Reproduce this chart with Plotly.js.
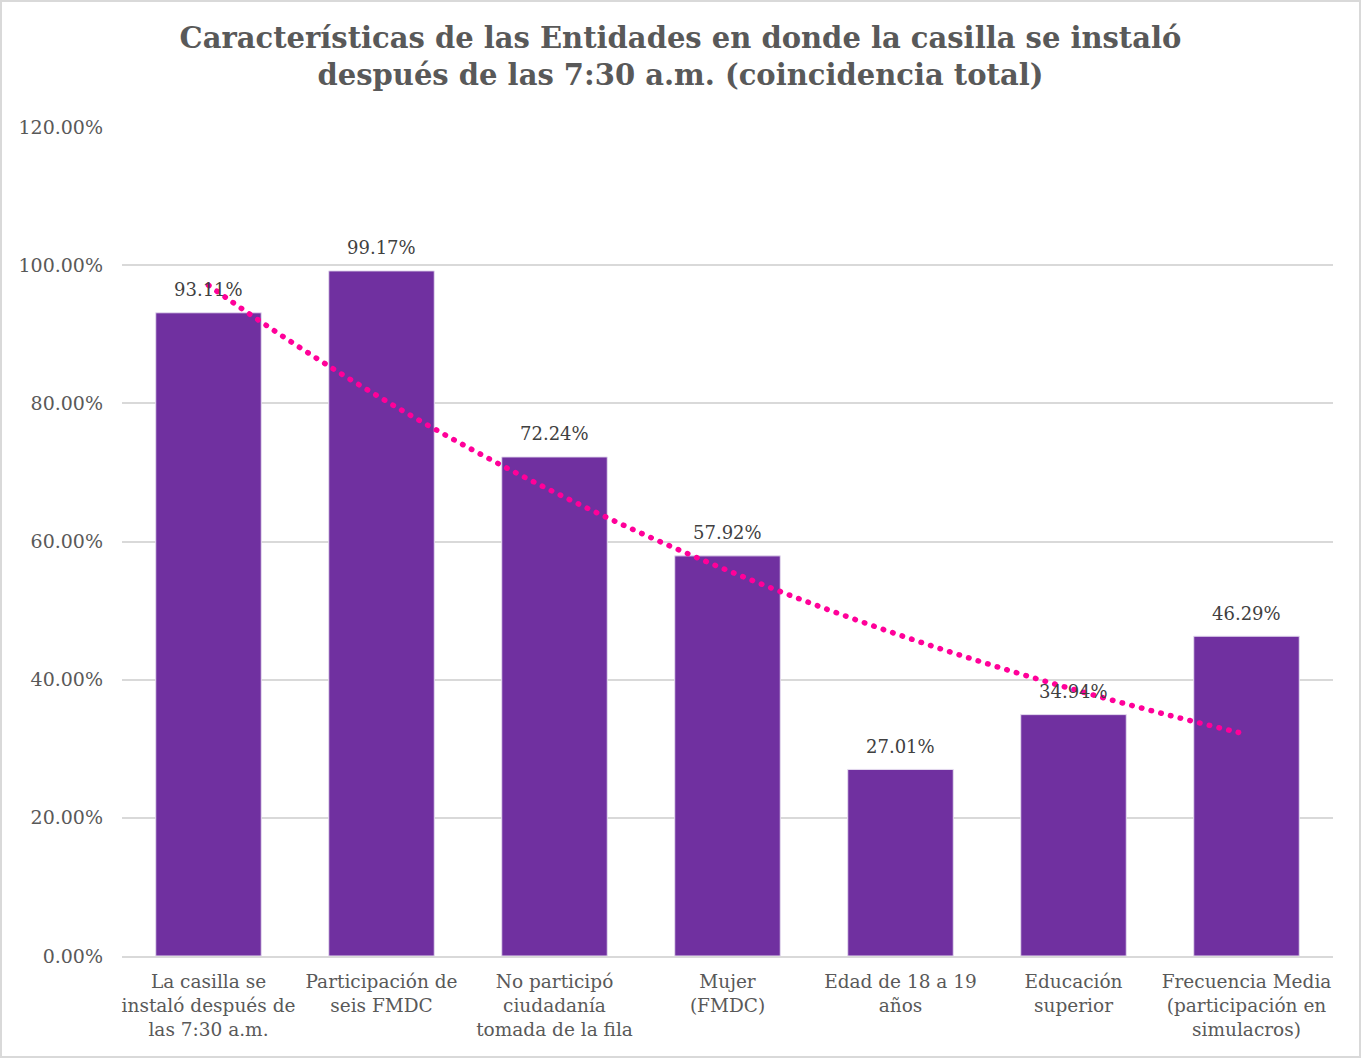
<!DOCTYPE html>
<html>
<head>
<meta charset="utf-8">
<script src="https://cdn.plot.ly/plotly-3.0.1.min.js"></script>
<style>
  html, body { margin: 0; padding: 0; background: #fff; }
  #wrap { position: relative; width: 1361px; height: 1058px; }
  #chart { width: 1361px; height: 1058px; }
  #frame { position: absolute; left: 0; top: 0; width: 1361px; height: 1058px; box-sizing: border-box;
           border: 2px solid #D9D9D9; pointer-events: none; }
  .scatterlayer .js-line { stroke-linecap: round !important; }
</style>
</head>
<body>
<div id="wrap"><div id="chart"></div><div id="frame"></div></div>
<script>
const categories = [
  "La casilla se<br>instaló después de<br>las 7:30 a.m.",
  "Participación de<br>seis FMDC",
  "No participó<br>ciudadanía<br>tomada de la fila",
  "Mujer<br>(FMDC)",
  "Edad de 18 a 19<br>años",
  "Educación<br>superior",
  "Frecuencia Media<br>(participación en<br>simulacros)"
];
const values = [0.9311, 0.9917, 0.7224, 0.5792, 0.2701, 0.3494, 0.4629];
const yTickVals = [0, 0.2, 0.4, 0.6, 0.8, 1.0, 1.2];

const xIdx = categories.map((_, i) => i);

// Exponential trendline (least squares on ln(y)), as a spreadsheet trendline does
const n = values.length;
const xs = values.map((_, i) => i + 1);
const ly = values.map(v => Math.log(v));
const mx = xs.reduce((a, b) => a + b, 0) / n;
const my = ly.reduce((a, b) => a + b, 0) / n;
let sxy = 0, sxx = 0;
for (let i = 0; i < n; i++) { sxy += (xs[i] - mx) * (ly[i] - my); sxx += (xs[i] - mx) ** 2; }
const slope = sxy / sxx;
const icpt = my - slope * mx;
const trendX = [], trendY = [];
for (let k = 0; k <= 60; k++) {
  const xv = 1 + k * (n - 1) / 60;
  trendX.push(xv - 1);
  trendY.push(Math.exp(icpt + slope * xv));
}

const FONT = "DejaVu Serif, Georgia, serif";

const traces = [
  {
    type: "bar",
    x: xIdx,
    y: values,
    marker: { color: "#7030A0", line: { color: "#E6DDF0", width: 1 } },
    hoverinfo: "skip"
  },
  {
    type: "scatter",
    mode: "lines",
    x: trendX,
    y: trendY,
    line: { color: "#FF0099", width: 5.5, dash: "0.5px,9.5px", shape: "spline" },
    hoverinfo: "skip"
  }
];

const annotations = values.map((v, i) => ({
  x: i, y: v, xref: "x", yref: "y",
  text: (v * 100).toFixed(2) + "%",
  showarrow: false,
  yanchor: "middle",
  yshift: 23,
  font: { family: FONT, size: 18, color: "#404040" }
}));

const layout = {
  width: 1361,
  height: 1058,
  margin: { l: 122, r: 28, t: 127, b: 102 },
  paper_bgcolor: "#ffffff",
  plot_bgcolor: "#ffffff",
  showlegend: false,
  bargap: 0.39,
  annotations: annotations,
  title: {
    text: "<b>Características de las Entidades en donde la casilla se instaló<br>después de las 7:30 a.m. (coincidencia total)</b>",
    font: { family: FONT, size: 29, color: "#595959" },
    x: 0.5, xanchor: "center",
    y: 0.955, yanchor: "middle"
  },
  xaxis: {
    range: [-0.5, 6.5],
    tickvals: xIdx,
    ticktext: categories,
    tickfont: { family: FONT, size: 18.5, color: "#595959" },
    showgrid: false,
    zeroline: false,
    showline: true,
    linecolor: "#D9D9D9",
    linewidth: 2,
    ticks: "",
    ticklen: 0,
    ticklabelstandoff: 8
  },
  yaxis: {
    range: [0, 1.2],
    tickvals: yTickVals,
    tickformat: ".2%",
    tickfont: { family: FONT, size: 19, color: "#595959" },
    showgrid: true,
    gridcolor: "#D9D9D9",
    gridwidth: 2,
    zeroline: false,
    showline: false,
    ticks: "",
    ticklabelstandoff: 18
  }
};

Plotly.newPlot("chart", traces, layout, { displayModeBar: false, staticPlot: true });
</script>
</body>
</html>
